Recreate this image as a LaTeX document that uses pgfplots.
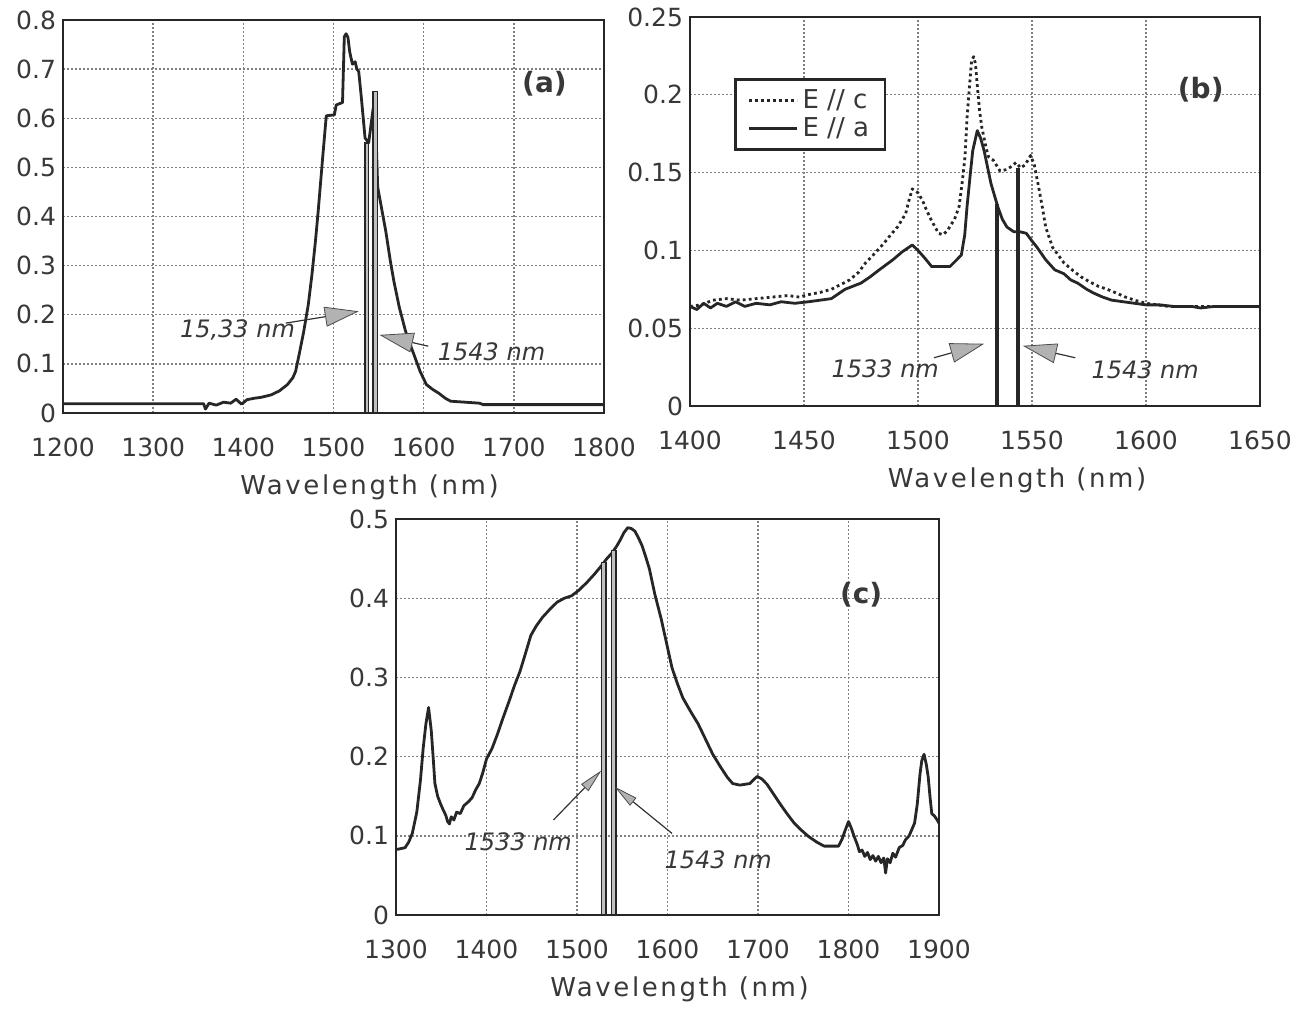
\documentclass[border=0pt]{standalone}
\usepackage{fontspec}
\setmainfont{DejaVu Sans}
\usepackage{pgfplots}
\pgfplotsset{compat=1.18}
\usetikzlibrary{arrows.meta}

\definecolor{ink}{gray}{0.22}
\newcommand\tickfont{\fontsize{12.5}{14}\selectfont}
\newcommand\labfont{\fontsize{13}{15}\selectfont\addfontfeatures{LetterSpace=10}}
\newcommand\annfont{\fontsize{12}{14}\selectfont\itshape}

\pgfplotsset{
  panel/.style={
    scale only axis,
    axis line style={line width=1.1pt, black!85},
    major tick length=0pt,
    grid=major,
    grid style={black!50, line width=0.7pt, dash pattern=on 0.8pt off 1.2pt},
    tick label style={font=\tickfont, text=ink},
    /pgf/number format/assume math mode=true,
    /pgf/number format/set thousands separator={},
    /pgf/number format/fixed,
    xticklabel shift=9pt,
    every axis x label/.style={at={(axis description cs:0.5,0)}, anchor=center,
      yshift=-37pt, font=\labfont, text=ink},
    clip=false,
  },
}
\tikzset{
  curve/.style={line width=1.4pt, black!85, line join=round},
  bar/.style={fill=gray!50, draw=black!85, line width=0.7pt},
  ann/.style={font=\annfont, text=ink, anchor=west},
  arr/.style={line width=0.6pt, black!80,
    -{Triangle[length=17pt,width=10pt,fill=gray!60,color=black!70,line width=0.4pt]}},
  arrs/.style={line width=0.6pt, black!80,
    -{Triangle[length=12pt,width=5pt,fill=gray!60,color=black!70,line width=0.4pt]}},
  panlab/.style={font=\fontsize{14}{16}\selectfont\bfseries, text=ink},
}

\begin{document}
\begin{tikzpicture}
\useasboundingbox (0,0) rectangle (654pt,504.5pt);

% ---------------- (a)
\begin{axis}[panel,
    at={(31.5pt,298pt)}, anchor=south west,
    width=270.5pt, height=196.5pt,
    xmin=1200, xmax=1800, ymin=0, ymax=0.8,
    xtick={1200,1300,1400,1500,1600,1700,1800},
    ytick={0,0.1,0.2,0.3,0.4,0.5,0.6,0.7,0.8},
    xlabel={Wavelength (nm)},
    xlabel style={xshift=18pt},
  ]
  \addplot[curve] coordinates {
    (1200,0.019)(1356,0.019)(1358,0.008)(1362,0.02)(1370,0.016)(1378,0.022)
    (1386,0.02)(1392,0.028)(1398,0.018)(1404,0.027)(1412,0.03)(1420,0.032)
    (1431,0.037)(1440,0.045)(1449,0.058)(1455,0.072)(1458,0.085)(1462,0.12)
    (1467,0.166)(1472,0.22)(1476,0.28)(1480,0.35)(1483,0.41)(1488,0.52)
    (1492,0.605)(1501,0.607)(1503,0.627)(1510,0.632)(1512,0.766)(1514,0.772)
    (1516,0.765)(1518,0.735)(1521,0.71)(1524,0.715)(1526,0.70)(1528,0.695)
    (1531,0.64)(1535,0.56)(1539,0.55)(1544,0.62)(1547,0.58)(1549,0.46)
    (1553,0.42)(1558,0.37)(1563,0.31)(1567,0.268)(1573,0.215)(1580,0.166)
    (1585,0.14)(1589,0.12)(1596,0.085)(1603,0.058)(1610,0.048)(1617,0.04)
    (1624,0.03)(1630,0.024)(1662,0.02)(1666,0.017)(1800,0.017)
  };
  \addplot[bar, forget plot] coordinates {(1535,0)(1535,0.55)(1539,0.55)(1539,0)} \closedcycle;
  \addplot[bar, forget plot] coordinates {(1544,0)(1544,0.655)(1549,0.655)(1549,0)} \closedcycle;
  \node[ann] at (axis cs:1322,0.17) {15,33 nm};
  \draw[arr] (axis cs:1447,0.183) -- (axis cs:1528,0.207);
  \draw[arr] (axis cs:1605,0.136) -- (axis cs:1551,0.159);
  \node[ann] at (axis cs:1608,0.125) {1543 nm};
  \node[panlab] at (axis cs:1734,0.67) {(a)};
\end{axis}

% ---------------- (b)
\begin{axis}[panel,
    at={(345pt,301.5pt)}, anchor=south west,
    width=285pt, height=194.5pt,
    xmin=1400, xmax=1650, ymin=0, ymax=0.25,
    xtick={1400,1450,1500,1550,1600,1650},
    ytick={0,0.05,0.1,0.15,0.2,0.25},
    xlabel={Wavelength (nm)},
    xlabel style={xshift=21pt},
    legend style={at={(0.078,0.842)}, anchor=north west, draw=black!85,
      line width=1.3pt, font=\fontsize{13}{15}\selectfont, text=ink,
      inner xsep=6pt, inner ysep=3pt, row sep=-1pt, cells={anchor=west}},
    legend image code/.code={\draw[#1] (0pt,0pt) -- (24pt,0pt);},
  ]
  \addplot[curve, dash pattern=on 1.4pt off 1.6pt] coordinates {
    (1400,0.064)(1405,0.065)(1410,0.068)(1416,0.069)(1422,0.068)(1429,0.069)
    (1436,0.07)(1443,0.071)(1448,0.07)(1452,0.0716)(1457,0.073)(1462,0.075)
    (1466,0.078)(1470,0.081)(1474,0.086)(1477,0.092)(1481,0.098)(1485,0.1045)
    (1488,0.11)(1491,0.115)(1494.6,0.1236)(1496,0.132)(1497.5,0.1395)(1500,0.137)
    (1502,0.132)(1504,0.125)(1506,0.119)(1509,0.111)(1511,0.11)(1513,0.113)
    (1516,0.12)(1518,0.128)(1519.5,0.145)(1520.6,0.16)(1521.5,0.185)(1522.5,0.204)
    (1523.5,0.222)(1524.4,0.2245)(1525.2,0.22)(1526,0.206)(1527,0.19)(1528,0.179)
    (1530,0.165)(1531,0.16)(1533,0.158)(1536,0.151)(1539,0.152)(1541,0.154)
    (1543,0.1565)(1545,0.153)(1547,0.155)(1549.4,0.161)(1551,0.155)(1553,0.14)
    (1554.5,0.128)(1556,0.115)(1559,0.102)(1562,0.096)(1564,0.092)(1568,0.087)
    (1571.5,0.083)(1575,0.08)(1579,0.077)(1583,0.075)(1587,0.0726)(1591,0.07)
    (1595,0.068)(1600,0.066)(1605,0.065)(1610,0.064)(1650,0.064)
  };
  \addlegendentry{E // c}
  \addplot[curve] coordinates {
    (1400,0.064)(1403,0.062)(1406,0.066)(1409,0.063)(1412,0.066)(1416,0.064)
    (1420,0.067)(1424,0.064)(1429,0.066)(1435,0.065)(1440,0.067)(1446,0.066)
    (1452,0.067)(1457,0.068)(1462,0.069)(1468,0.075)(1475,0.079)(1479,0.083)
    (1483,0.0875)(1489,0.094)(1493,0.099)(1495,0.101)(1497.5,0.1035)(1500,0.1)
    (1503,0.095)(1506,0.0896)(1514,0.0896)(1517,0.094)(1519,0.097)(1520.5,0.11)
    (1521.5,0.128)(1523,0.15)(1524,0.164)(1526,0.177)(1527.5,0.172)(1529,0.164)
    (1532,0.143)(1535,0.128)(1537,0.12)(1539,0.115)(1542,0.112)(1544.6,0.112)
    (1547.5,0.111)(1550,0.106)(1552,0.1024)(1556,0.094)(1560,0.0875)(1564,0.085)
    (1567,0.081)(1570,0.079)(1574,0.075)(1577,0.0726)(1581,0.07)(1585,0.068)
    (1590,0.067)(1595,0.066)(1600,0.065)(1606,0.065)(1612,0.064)(1620,0.064)
    (1624,0.063)(1630,0.064)(1640,0.064)(1650,0.064)
  };
  \addlegendentry{E // a}
  \addplot[line width=2pt, black!85, forget plot] coordinates {(1534.6,0)(1534.6,0.13)};
  \addplot[line width=2pt, black!85, forget plot] coordinates {(1543.9,0)(1543.9,0.153)};
  \node[ann] at (axis cs:1459,0.024) {1533 nm};
  \draw[arr] (axis cs:1507,0.031) -- (axis cs:1529,0.040);
  \node[ann] at (axis cs:1573,0.023) {1543 nm};
  \draw[arr] (axis cs:1569,0.031) -- (axis cs:1546,0.0387);
  \node[panlab] at (axis cs:1624,0.203) {(b)};
\end{axis}

% ---------------- (c)
\begin{axis}[panel,
    at={(198pt,47pt)}, anchor=south west,
    width=271.5pt, height=198pt,
    xmin=1300, xmax=1900, ymin=0, ymax=0.5,
    xtick={1300,1400,1500,1600,1700,1800,1900},
    ytick={0,0.1,0.2,0.3,0.4,0.5},
    xlabel={Wavelength (nm)},
    xlabel style={xshift=6pt},
  ]
  \addplot[curve] coordinates {
    (1300,0.083)(1302,0.083)(1310,0.085)(1314,0.092)(1318,0.103)(1323,0.13)
    (1327,0.17)(1330,0.21)(1333,0.241)(1336,0.262)(1339,0.2325)(1341,0.2)
    (1343,0.166)(1346,0.15)(1349,0.141)(1352,0.133)(1355,0.126)(1357,0.118)
    (1359,0.115)(1361,0.124)(1364,0.12)(1367,0.13)(1371,0.128)(1375,0.138)
    (1380,0.143)(1384,0.148)(1388,0.158)(1392,0.166)(1396,0.18)(1400,0.197)
    (1406,0.21)(1412,0.228)(1418,0.248)(1425,0.27)(1431,0.29)(1437,0.3075)
    (1443,0.33)(1449,0.353)(1455,0.365)(1462,0.376)(1470,0.386)(1478,0.395)
    (1486,0.4)(1494,0.403)(1502,0.41)(1511,0.42)(1519,0.43)(1527,0.441)
    (1533,0.45)(1539,0.4575)(1544,0.466)(1548,0.474)(1552,0.483)(1556,0.489)
    (1560,0.488)(1564,0.4846)(1568,0.476)(1572,0.466)(1576,0.452)(1580,0.437)
    (1586,0.405)(1593,0.374)(1599,0.343)(1605,0.312)(1611,0.292)(1617,0.274)
    (1625,0.258)(1634,0.241)(1642,0.222)(1650,0.203)(1658,0.188)(1666,0.174)
    (1672,0.166)(1680,0.164)(1691,0.166)(1699,0.175)(1704,0.172)(1710,0.165)
    (1717,0.153)(1724,0.141)(1732,0.128)(1740,0.116)(1748,0.107)(1756,0.099)
    (1765,0.092)(1773,0.087)(1789,0.087)(1793,0.096)(1796,0.106)(1800,0.118)
    (1803,0.11)(1806,0.1)(1810,0.088)(1812,0.08)(1815,0.082)(1818,0.074)
    (1821,0.079)(1824,0.07)(1827,0.075)(1830,0.068)(1833,0.074)(1836,0.066)
    (1839,0.072)(1841,0.053)(1843,0.071)(1846,0.066)(1849,0.078)(1852,0.073)
    (1856,0.085)(1860,0.088)(1863,0.095)(1867,0.1)(1870,0.108)(1873,0.116)
    (1876,0.14)(1879,0.178)(1881,0.195)(1883.5,0.203)(1886,0.19)(1888,0.175)
    (1890,0.15)(1892,0.128)(1895,0.125)(1898,0.12)(1900,0.116)
  };
  \addplot[bar, forget plot] coordinates {(1527,0)(1527,0.445)(1532,0.445)(1532,0)} \closedcycle;
  \addplot[bar, forget plot] coordinates {(1538,0)(1538,0.46)(1543,0.46)(1543,0)} \closedcycle;
  \node[ann] at (axis cs:1368,0.093) {1533 nm};
  \draw[arrs] (axis cs:1474,0.12) -- (axis cs:1527,0.1825);
  \node[ann] at (axis cs:1589,0.07) {1543 nm};
  \draw[arrs] (axis cs:1605,0.103) -- (axis cs:1541.6,0.162);
  \node[panlab] at (axis cs:1814,0.405) {(c)};
\end{axis}
\end{tikzpicture}
\end{document}
